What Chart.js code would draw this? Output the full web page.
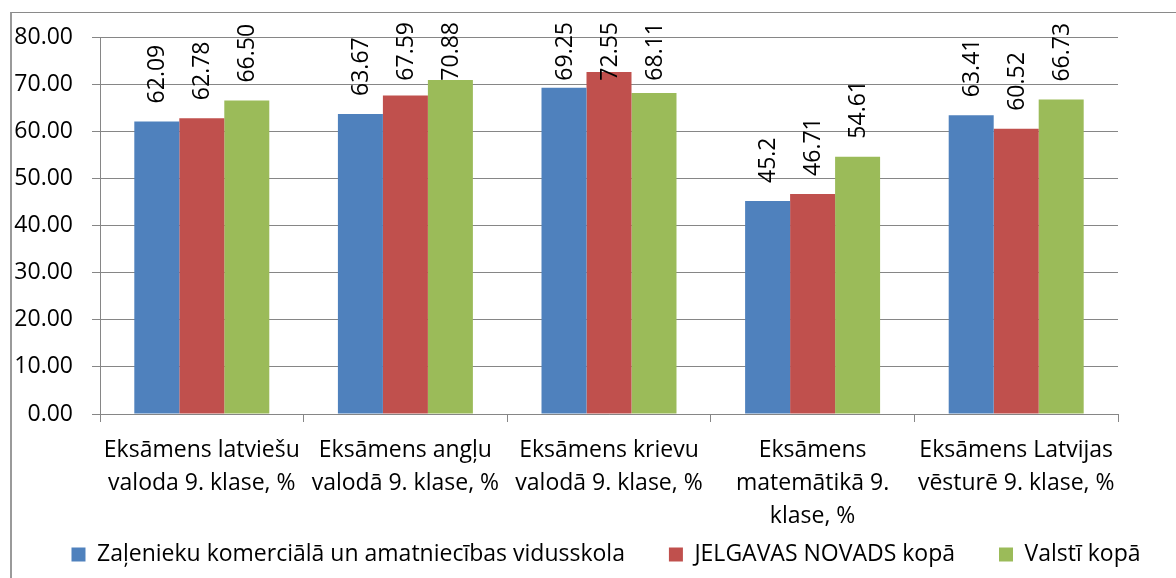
<!DOCTYPE html>
<html>
<head>
<meta charset="utf-8">
<script src="https://cdn.jsdelivr.net/npm/chart.js@4/dist/chart.umd.min.js"></script>
<style>
    html, body { margin: 0; padding: 0; background: #fff; overflow: hidden; }
    #wrap { position: relative; width: 1176px; height: 578px; }
    #frame { position: absolute; left: 10px; top: 12px; width: 2000px; height: 2000px;
             border-left: 2px solid #9a9a9a; border-top: 1px solid #8a8a8a; pointer-events: none; }
</style>
</head>
<body>
<div id="wrap">
    <canvas id="examChart"></canvas>
    <div id="frame"></div>
</div>
<script>
    // categories (multi-line, as wrapped in the original)
    const categories = [
        ['Eksāmens latviešu', 'valoda 9. klase, %'],
        ['Eksāmens angļu', 'valodā 9. klase, %'],
        ['Eksāmens krievu', 'valodā 9. klase, %'],
        ['Eksāmens', 'matemātikā 9.', 'klase, %'],
        ['Eksāmens Latvijas', 'vēsturē 9. klase, %']
    ];

    // values kept as the text shown on the labels
    const skola = ['62.09', '63.67', '69.25', '45.2', '63.41'];
    const novads = ['62.78', '67.59', '72.55', '46.71', '60.52'];
    const valsts = ['66.50', '70.88', '68.11', '54.61', '66.73'];

    const yTicks = { min: 0, max: 80, step: 10 };

    const FONT = "'Open Sans', sans-serif";
    const SIZE = 23;
    const GRID = '#868686';

    // rotated value labels above each bar, kept inside the top of the chart
    const barLabels = {
        id: 'barLabels',
        afterDatasetsDraw(chart) {
            const ctx = chart.ctx;
            ctx.save();
            ctx.font = SIZE + 'px ' + FONT;
            ctx.fillStyle = '#000';
            ctx.textAlign = 'left';
            ctx.textBaseline = 'middle';
            chart.data.datasets.forEach(function (ds, i) {
                chart.getDatasetMeta(i).data.forEach(function (bar, j) {
                    const txt = String(ds.data[j]);
                    const w = ctx.measureText(txt).width;
                    let bottom = bar.y - 18;
                    if (bottom - w < 22) bottom = 22 + w;
                    ctx.save();
                    ctx.translate(bar.x + 1, bottom);
                    ctx.rotate(-Math.PI / 2);
                    ctx.fillText(txt, 0, 0);
                    ctx.restore();
                });
            });
            ctx.restore();
        }
    };

    // the legend sits over the lower part of the tall category labels,
    // a little right of centre like the original
    const legendUp = {
        id: 'legendUp',
        afterLayout(chart) {
            const lg = chart.legend;
            lg.top = 499;
            lg.bottom = 578;
            lg.height = 79;
            lg.left = 12;
            lg.right = 1200;
            lg.width = 1188;
        }
    };

    new Chart(document.getElementById('examChart').getContext('2d'), {
        type: 'bar',
        data: {
            labels: categories,
            datasets: [
                { label: 'Zaļenieku komerciālā un amatniecības vidusskola', data: skola, backgroundColor: '#4F81BD' },
                { label: 'JELGAVAS NOVADS kopā', data: novads, backgroundColor: '#C0504D' },
                { label: 'Valstī kopā', data: valsts, backgroundColor: '#9BBB59' }
            ]
        },
        options: {
            responsive: true,
            maintainAspectRatio: false,
            animation: false,
            layout: { padding: { top: 37, right: 0, left: 10, bottom: 0 } },
            datasets: { bar: { categoryPercentage: 0.663, barPercentage: 1.0 } },
            plugins: {
                legend: {
                    position: 'bottom',
                    maxHeight: 34,
                    labels: {
                        boxWidth: 14,
                        boxHeight: 14,
                        padding: 44,
                        color: '#000',
                        font: { family: FONT, size: SIZE }
                    }
                },
                tooltip: { enabled: false }
            },
            scales: {
                x: {
                    grid: { drawOnChartArea: false, drawTicks: true, tickLength: 8, color: GRID },
                    border: { color: GRID },
                    ticks: {
                        color: '#000',
                        maxRotation: 0,
                        autoSkip: false,
                        padding: 12,
                        font: { family: FONT, size: SIZE, lineHeight: 1.43 }
                    },
                    afterFit(scale) { scale.height = 130; }
                },
                y: {
                    min: yTicks.min,
                    max: yTicks.max,
                    grid: { color: GRID, tickLength: 8 },
                    border: { color: GRID },
                    ticks: {
                        stepSize: yTicks.step,
                        color: '#000',
                        padding: 19,
                        font: { family: FONT, size: SIZE },
                        callback: function (v) { return v.toFixed(2); }
                    },
                    afterFit(scale) { scale.width = 90; }
                },
                // empty spacer on the right so the plot ends where the original does
                spacer: {
                    type: 'linear',
                    position: 'right',
                    grid: { display: false },
                    border: { display: false },
                    ticks: { display: false },
                    afterFit(scale) { scale.width = 58; }
                }
            }
        },
        plugins: [barLabels, legendUp]
    });
</script>
</body>
</html>
